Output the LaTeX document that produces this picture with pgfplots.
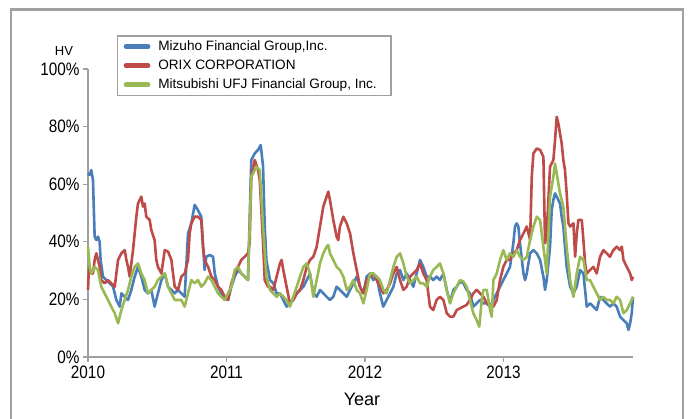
\documentclass[border=0pt]{standalone}
\usepackage{fontspec}
\setmainfont{Liberation Sans}
\newfontfamily\narrowfont{Liberation Sans}[FakeStretch=0.85]
\usepackage{pgfplots}
\pgfplotsset{compat=1.18}
\definecolor{cBlue}{HTML}{4A7EBB}
\definecolor{cRed}{HTML}{BE4B48}
\definecolor{cGreen}{HTML}{98B954}
\definecolor{cGray}{HTML}{A0A0A0}
\begin{document}
\begin{tikzpicture}[x=1pt,y=1pt]
\draw[cGray, line width=2.5pt] (11,-10) -- (11,409.5) -- (683,409.5) -- (683,-10);
\begin{axis}[
  at={(88pt,62pt)}, anchor=south west,
  scale only axis, width=545pt, height=288pt,
  xmin=2010, xmax=2013.935, ymin=0, ymax=100,
  axis x line*=bottom, axis y line*=left,
  axis line style={cGray, line width=1.5pt, -},
  xtick={2010,2011,2012,2013},
  ytick={0,20,40,60,80,100},
  tick align=outside, major tick length=5pt,
  tick style={cGray, line width=1.2pt},
  /pgf/number format/assume math mode=true,
  /pgf/number format/1000 sep={},
  yticklabel={\pgfmathprintnumber{\tick}\%},
  ticklabel style={font=\narrowfont\fontsize{18}{18}\selectfont, text=black},
  legend style={at={(0.0532,1.118)}, anchor=north west, draw=cGray, line width=1.5pt,
    font=\fontsize{13.6}{13.6}\selectfont, inner sep=3pt, row sep=4pt, fill=white},
  legend cell align=left,
  legend image code/.code={\draw[#1,line width=4.8pt,line cap=round] (4pt,0pt) -- (26pt,0pt); \path (0pt,0pt) (33pt,0pt);},
  every axis plot/.append style={line width=2.6pt, line join=round},
  clip=false,
]
\addplot[cBlue] coordinates {
(2010.000,63.8) (2010.012,63.2) (2010.024,64.9) (2010.036,61.4) (2010.048,41.8) (2010.060,40.6)
(2010.072,41.8) (2010.084,40.0) (2010.091,33.7) (2010.108,27.9) (2010.132,26.7) (2010.156,25.6)
(2010.181,24.4) (2010.205,19.8) (2010.229,17.5) (2010.241,22.1) (2010.265,20.9) (2010.289,19.8)
(2010.313,23.3) (2010.337,27.9) (2010.361,31.3) (2010.385,27.9) (2010.409,23.3) (2010.433,22.1)
(2010.457,23.3) (2010.481,17.5) (2010.505,22.1) (2010.530,26.7) (2010.554,29.0) (2010.578,24.4)
(2010.602,23.3) (2010.626,22.1) (2010.650,23.3) (2010.674,22.1) (2010.698,20.9) (2010.722,42.9)
(2010.746,46.4) (2010.770,52.8) (2010.794,51.0) (2010.818,48.7) (2010.830,39.5) (2010.842,30.2)
(2010.854,34.8) (2010.879,35.4) (2010.903,34.8) (2010.915,29.0) (2010.939,24.4) (2010.963,22.1)
(2010.987,20.9) (2011.011,19.8) (2011.035,24.4) (2011.059,27.9) (2011.083,30.2) (2011.107,29.0)
(2011.131,27.9) (2011.155,26.7) (2011.179,68.4) (2011.204,70.7) (2011.228,71.9) (2011.247,73.6)
(2011.264,66.1) (2011.276,45.3) (2011.288,33.7) (2011.314,26.7) (2011.338,25.6) (2011.362,22.1)
(2011.386,22.1) (2011.410,19.8) (2011.434,17.5) (2011.458,18.6) (2011.482,19.8) (2011.507,22.1)
(2011.531,23.3) (2011.555,24.4) (2011.579,26.7) (2011.603,29.0) (2011.627,22.1) (2011.651,20.9)
(2011.675,23.3) (2011.699,22.1) (2011.723,20.9) (2011.747,19.8) (2011.771,20.9) (2011.795,24.4)
(2011.819,23.3) (2011.844,22.1) (2011.868,20.9) (2011.892,23.3) (2011.916,25.6) (2011.940,27.9)
(2011.964,24.4) (2011.988,22.1) (2012.012,27.9) (2012.036,29.0) (2012.060,26.7) (2012.084,27.9)
(2012.108,22.1) (2012.132,17.5) (2012.156,19.8) (2012.181,22.1) (2012.205,24.4) (2012.229,29.0)
(2012.253,30.2) (2012.277,26.7) (2012.301,29.0) (2012.325,26.7) (2012.349,24.4) (2012.373,29.0)
(2012.397,33.7) (2012.421,31.3) (2012.445,27.9) (2012.469,27.9) (2012.493,26.7) (2012.517,27.9)
(2012.541,26.7) (2012.566,29.0) (2012.590,23.3) (2012.614,19.0) (2012.638,23.3) (2012.662,24.4)
(2012.686,26.2) (2012.710,25.6) (2012.734,23.3) (2012.758,22.1) (2012.782,17.5) (2012.806,18.6)
(2012.831,19.8) (2012.855,18.6) (2012.879,18.6) (2012.903,17.5) (2012.927,19.8) (2012.951,22.1)
(2012.975,24.4) (2012.999,26.7) (2013.023,29.0) (2013.047,31.3) (2013.071,39.5) (2013.083,45.3)
(2013.095,46.4) (2013.107,45.3) (2013.119,39.5) (2013.144,29.0) (2013.156,26.7) (2013.168,29.0)
(2013.192,36.0) (2013.216,37.1) (2013.240,36.0) (2013.264,33.7) (2013.288,27.9) (2013.300,23.3)
(2013.312,26.7) (2013.336,38.3) (2013.348,51.0) (2013.360,54.5) (2013.372,56.8) (2013.384,55.7)
(2013.408,53.3) (2013.420,48.7) (2013.432,45.3) (2013.444,38.3) (2013.456,31.3) (2013.481,24.4)
(2013.505,22.1) (2013.529,24.4) (2013.553,30.2) (2013.577,29.0) (2013.601,17.5) (2013.625,18.6)
(2013.649,17.5) (2013.673,16.3) (2013.697,20.9) (2013.721,19.8) (2013.745,18.6) (2013.769,17.5)
(2013.793,18.6) (2013.817,17.5) (2013.842,14.0) (2013.866,12.8) (2013.890,11.7) (2013.902,9.4)
(2013.914,11.7) (2013.926,15.2) (2013.935,20.9)
};
\addlegendentry{Mizuho Financial Group,Inc.}
\addplot[cRed] coordinates {
(2010.000,23.3) (2010.007,31.3) (2010.024,29.0) (2010.036,29.0) (2010.048,33.7) (2010.060,36.0)
(2010.072,33.7) (2010.084,31.3) (2010.096,26.7) (2010.120,25.6) (2010.144,26.7) (2010.168,25.6)
(2010.193,24.4) (2010.217,33.7) (2010.241,36.0) (2010.265,37.1) (2010.277,33.7) (2010.289,31.3)
(2010.301,27.9) (2010.313,32.5) (2010.325,37.1) (2010.337,42.9) (2010.349,48.7) (2010.361,53.3)
(2010.385,55.7) (2010.397,52.2) (2010.409,53.3) (2010.421,48.7) (2010.445,47.6) (2010.457,44.1)
(2010.481,40.6) (2010.493,33.7) (2010.505,31.3) (2010.530,29.0) (2010.554,37.1) (2010.578,36.6)
(2010.602,33.7) (2010.614,29.0) (2010.626,24.4) (2010.650,23.3) (2010.674,27.9) (2010.698,29.0)
(2010.722,33.7) (2010.734,42.9) (2010.746,46.4) (2010.770,48.7) (2010.794,48.7) (2010.818,47.6)
(2010.830,38.3) (2010.842,33.7) (2010.867,31.3) (2010.891,27.9) (2010.915,26.7) (2010.939,24.4)
(2010.963,23.3) (2010.987,20.9) (2011.011,19.8) (2011.035,25.6) (2011.059,29.0) (2011.083,31.3)
(2011.107,33.7) (2011.131,34.8) (2011.155,36.0) (2011.167,39.5) (2011.179,62.6) (2011.204,68.4)
(2011.228,64.9) (2011.240,61.4) (2011.264,39.5) (2011.276,26.7) (2011.300,24.4) (2011.314,24.4)
(2011.338,23.3) (2011.362,27.9) (2011.386,32.5) (2011.398,33.7) (2011.410,30.2) (2011.434,24.4)
(2011.458,18.6) (2011.482,19.8) (2011.507,22.1) (2011.531,23.3) (2011.555,26.7) (2011.579,31.3)
(2011.603,33.7) (2011.627,34.8) (2011.651,38.3) (2011.675,45.3) (2011.699,52.2) (2011.723,55.7)
(2011.735,57.4) (2011.747,54.5) (2011.771,47.6) (2011.795,41.8) (2011.807,40.6) (2011.819,45.3)
(2011.844,48.7) (2011.868,46.4) (2011.892,42.9) (2011.916,36.0) (2011.940,30.2) (2011.964,24.4)
(2011.988,22.1) (2012.012,26.7) (2012.036,27.9) (2012.060,29.0) (2012.084,26.7) (2012.108,24.4)
(2012.132,22.1) (2012.156,23.3) (2012.181,25.6) (2012.205,29.0) (2012.229,31.3) (2012.253,26.7)
(2012.277,23.3) (2012.301,24.4) (2012.325,27.9) (2012.349,29.0) (2012.373,30.2) (2012.397,32.5)
(2012.421,29.0) (2012.445,26.7) (2012.469,17.5) (2012.493,16.3) (2012.517,19.8) (2012.541,20.9)
(2012.566,19.8) (2012.590,15.2) (2012.614,14.0) (2012.638,14.0) (2012.662,16.3) (2012.686,16.9)
(2012.710,17.5) (2012.734,18.1) (2012.758,19.8) (2012.782,22.1) (2012.806,23.3) (2012.831,22.1)
(2012.855,20.9) (2012.879,18.6) (2012.903,17.5) (2012.927,17.5) (2012.951,19.8) (2012.975,26.7)
(2012.999,31.3) (2013.023,33.7) (2013.047,33.7) (2013.071,36.0) (2013.095,37.1) (2013.119,40.6)
(2013.144,42.9) (2013.168,45.3) (2013.192,40.6) (2013.204,62.6) (2013.216,70.7) (2013.240,72.4)
(2013.264,71.9) (2013.288,69.5) (2013.300,39.5) (2013.312,42.9) (2013.336,66.1) (2013.360,68.4)
(2013.372,75.3) (2013.384,83.4) (2013.396,81.1) (2013.408,77.6) (2013.420,74.2) (2013.432,68.4)
(2013.444,64.9) (2013.456,56.8) (2013.469,46.4) (2013.481,45.3) (2013.505,46.4) (2013.517,34.8)
(2013.529,42.9) (2013.541,47.6) (2013.565,47.6) (2013.577,40.6) (2013.589,32.5) (2013.601,29.0)
(2013.625,30.2) (2013.649,31.3) (2013.673,29.0) (2013.697,34.8) (2013.721,37.1) (2013.745,36.0)
(2013.769,34.8) (2013.793,37.1) (2013.817,38.3) (2013.842,37.1) (2013.854,38.3) (2013.866,33.7)
(2013.890,31.3) (2013.914,29.0) (2013.926,26.7) (2013.935,27.9)
};
\addlegendentry{ORIX CORPORATION}
\addplot[cGreen] coordinates {
(2010.000,38.3) (2010.012,31.3) (2010.024,29.0) (2010.048,31.3) (2010.072,30.2) (2010.096,24.4)
(2010.120,22.1) (2010.144,19.8) (2010.168,17.5) (2010.193,15.2) (2010.217,11.7) (2010.241,16.3)
(2010.265,19.8) (2010.289,23.3) (2010.313,27.9) (2010.337,31.3) (2010.361,32.5) (2010.385,29.0)
(2010.409,26.7) (2010.433,22.1) (2010.457,23.3) (2010.481,24.4) (2010.505,26.7) (2010.530,27.9)
(2010.554,29.0) (2010.578,24.4) (2010.602,22.1) (2010.626,19.8) (2010.650,19.8) (2010.674,19.8)
(2010.698,17.5) (2010.722,22.1) (2010.746,26.7) (2010.770,25.6) (2010.794,26.7) (2010.818,24.4)
(2010.842,25.6) (2010.867,27.9) (2010.891,26.7) (2010.915,24.4) (2010.939,22.1) (2010.963,20.9)
(2010.987,19.8) (2011.011,22.1) (2011.035,24.4) (2011.059,30.2) (2011.083,31.3) (2011.107,29.0)
(2011.131,27.9) (2011.155,26.7) (2011.179,62.6) (2011.204,64.9) (2011.216,66.1) (2011.240,64.9)
(2011.264,45.3) (2011.288,27.9) (2011.314,23.3) (2011.338,22.1) (2011.362,20.9) (2011.386,22.1)
(2011.410,20.9) (2011.434,19.8) (2011.458,17.5) (2011.482,20.9) (2011.507,24.4) (2011.531,27.9)
(2011.555,31.3) (2011.579,32.5) (2011.603,29.0) (2011.627,20.9) (2011.651,26.7) (2011.675,32.5)
(2011.699,36.0) (2011.723,38.3) (2011.735,38.9) (2011.747,36.0) (2011.771,33.7) (2011.795,31.3)
(2011.819,30.2) (2011.844,27.9) (2011.868,23.3) (2011.892,24.4) (2011.916,26.7) (2011.940,23.3)
(2011.964,22.1) (2011.988,18.6) (2012.012,23.3) (2012.036,29.0) (2012.060,29.0) (2012.084,27.9)
(2012.108,26.7) (2012.132,23.3) (2012.156,22.1) (2012.181,26.7) (2012.205,31.3) (2012.229,34.8)
(2012.253,36.0) (2012.277,32.5) (2012.301,27.9) (2012.325,25.6) (2012.349,26.7) (2012.373,27.9)
(2012.397,25.6) (2012.421,25.6) (2012.445,24.4) (2012.469,27.9) (2012.493,30.2) (2012.517,31.3)
(2012.541,32.5) (2012.566,29.0) (2012.590,23.3) (2012.614,18.6) (2012.638,22.1) (2012.662,24.4)
(2012.686,26.7) (2012.710,26.2) (2012.734,24.4) (2012.758,19.8) (2012.782,15.2) (2012.806,12.8)
(2012.825,10.5) (2012.843,19.8) (2012.855,23.3) (2012.879,23.3) (2012.903,16.3) (2012.915,14.0)
(2012.927,26.7) (2012.951,29.0) (2012.975,33.7) (2012.999,37.1) (2013.023,33.7) (2013.047,36.0)
(2013.071,34.8) (2013.095,37.1) (2013.119,34.8) (2013.144,33.7) (2013.168,34.8) (2013.192,40.6)
(2013.216,45.3) (2013.240,48.7) (2013.264,47.6) (2013.288,38.3) (2013.312,29.0) (2013.336,55.7)
(2013.360,62.6) (2013.372,67.2) (2013.384,63.8) (2013.408,56.8) (2013.432,52.2) (2013.456,38.3)
(2013.481,26.7) (2013.505,20.9) (2013.529,29.0) (2013.553,34.8) (2013.577,33.7) (2013.601,26.7)
(2013.625,26.7) (2013.649,24.4) (2013.673,22.1) (2013.697,19.8) (2013.721,20.9) (2013.745,19.8)
(2013.769,19.8) (2013.793,18.6) (2013.817,20.9) (2013.842,19.8) (2013.866,15.2) (2013.890,16.3)
(2013.914,18.6) (2013.935,20.9)
};
\addlegendentry{Mitsubishi UFJ Financial Group, Inc.\hspace*{9pt}}
\end{axis}
\node[font=\fontsize{13}{13}\selectfont, inner sep=0pt] at (64,367.5) {HV};
\node[font=\fontsize{18}{18}\selectfont, inner sep=0pt, anchor=base] at (362,13) {Year};
\pgfresetboundingbox
\path[use as bounding box] (0,0) rectangle (691,419);
\end{tikzpicture}
\end{document}
